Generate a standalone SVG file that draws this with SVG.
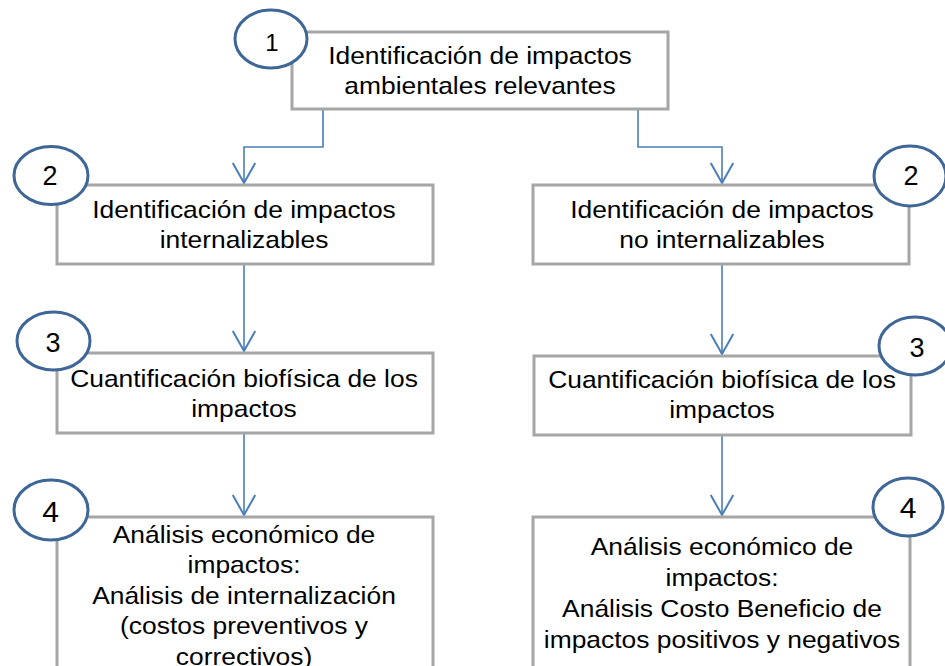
<svg xmlns="http://www.w3.org/2000/svg" width="945" height="666" viewBox="0 0 945 666">
<defs>
<style>
.box{fill:#fff;stroke:#A6A6A6;stroke-width:3}
.num{fill:#fff;stroke:#3E6697;stroke-width:3}
.t{font-family:"Liberation Sans",Arial,sans-serif;font-size:24px;fill:#000;text-anchor:middle}
.d{font-family:"Liberation Sans",Arial,sans-serif;fill:#000;text-anchor:middle}
.c{fill:none;stroke:#4A7EBB;stroke-width:1.6}
</style>
<marker id="ah" markerUnits="userSpaceOnUse" markerWidth="30" markerHeight="30" refX="0" refY="0" orient="auto" overflow="visible" viewBox="-20 -12 24 24">
<path d="M-16,-9 L0,0 L-16,9" fill="none" stroke="#4A7EBB" stroke-width="1.6"/>
</marker>
</defs>
<rect width="945" height="666" fill="#fff"/>
<g id="connectors">
<path class="c" d="M323,109 V147 H244 V183" marker-end="url(#ah)"/>
<path class="c" d="M638,109 V147 H722 V183" marker-end="url(#ah)"/>
<path class="c" d="M244,264 V351" marker-end="url(#ah)"/>
<path class="c" d="M722,264 V354" marker-end="url(#ah)"/>
<path class="c" d="M244,433 V515" marker-end="url(#ah)"/>
<path class="c" d="M722,435 V515" marker-end="url(#ah)"/>
</g>
<g id="n1">
<rect class="box" x="292" y="32" width="376" height="77"/>
<text class="t" transform="translate(480 0) scale(1.1 1)" x="0" y="64">Identificación de impactos</text>
<text class="t" transform="translate(480 0) scale(1.1 1)" x="0" y="94">ambientales relevantes</text>
<ellipse class="num" cx="271" cy="39" rx="36" ry="29"/>
<text class="d" x="272" y="51" font-size="24">1</text>
</g>
<g id="n2a">
<rect class="box" x="57" y="185" width="376" height="79"/>
<text class="t" transform="translate(244 0) scale(1.1 1)" x="0" y="218">Identificación de impactos</text>
<text class="t" transform="translate(244 0) scale(1.1 1)" x="0" y="248">internalizables</text>
<ellipse class="num" cx="51" cy="175.5" rx="37" ry="29"/>
<text class="d" x="50" y="185" font-size="27">2</text>
</g>
<g id="n3a">
<rect class="box" x="57" y="353" width="376" height="80"/>
<text class="t" transform="translate(244 0) scale(1.1 1)" x="0" y="387">Cuantificación biofísica de los</text>
<text class="t" transform="translate(244 0) scale(1.1 1)" x="0" y="417">impactos</text>
<ellipse class="num" cx="53.5" cy="341" rx="36.5" ry="29"/>
<text class="d" x="53" y="352" font-size="27">3</text>
</g>
<g id="n4a">
<rect class="box" x="57" y="517" width="376" height="160"/>
<text class="t" transform="translate(244 0) scale(1.1 1)" x="0" y="543">Análisis económico de</text>
<text class="t" transform="translate(244 0) scale(1.1 1)" x="0" y="573.5">impactos:</text>
<text class="t" transform="translate(244 0) scale(1.1 1)" x="0" y="604">Análisis de internalización</text>
<text class="t" transform="translate(244 0) scale(1.1 1)" x="0" y="634.5">(costos preventivos y</text>
<text class="t" transform="translate(244 0) scale(1.1 1)" x="0" y="665">correctivos)</text>
<ellipse class="num" cx="51" cy="510" rx="37" ry="30"/>
<text class="d" x="50.5" y="522" font-size="30">4</text>
</g>
<g id="n2b">
<rect class="box" x="533" y="185" width="376" height="79"/>
<text class="t" transform="translate(722 0) scale(1.1 1)" x="0" y="218">Identificación de impactos</text>
<text class="t" transform="translate(722 0) scale(1.1 1)" x="0" y="248">no internalizables</text>
<ellipse class="num" cx="910" cy="176" rx="36" ry="30"/>
<text class="d" x="911" y="185" font-size="27">2</text>
</g>
<g id="n3b">
<rect class="box" x="534" y="356" width="377" height="79"/>
<text class="t" transform="translate(722 0) scale(1.1 1)" x="0" y="388">Cuantificación biofísica de los</text>
<text class="t" transform="translate(722 0) scale(1.1 1)" x="0" y="418">impactos</text>
<ellipse class="num" cx="915" cy="346" rx="36" ry="29"/>
<text class="d" x="917" y="357" font-size="27">3</text>
</g>
<g id="n4b">
<rect class="box" x="533" y="517" width="377" height="160"/>
<text class="t" transform="translate(722 0) scale(1.1 1)" x="0" y="555">Análisis económico de</text>
<text class="t" transform="translate(722 0) scale(1.1 1)" x="0" y="586">impactos:</text>
<text class="t" transform="translate(722 0) scale(1.1 1)" x="0" y="617">Análisis Costo Beneficio de</text>
<text class="t" transform="translate(722 0) scale(1.1 1)" x="0" y="648">impactos positivos y negativos</text>
<ellipse class="num" cx="908" cy="507" rx="35" ry="29"/>
<text class="d" x="908" y="518" font-size="30">4</text>
</g>
</svg>
